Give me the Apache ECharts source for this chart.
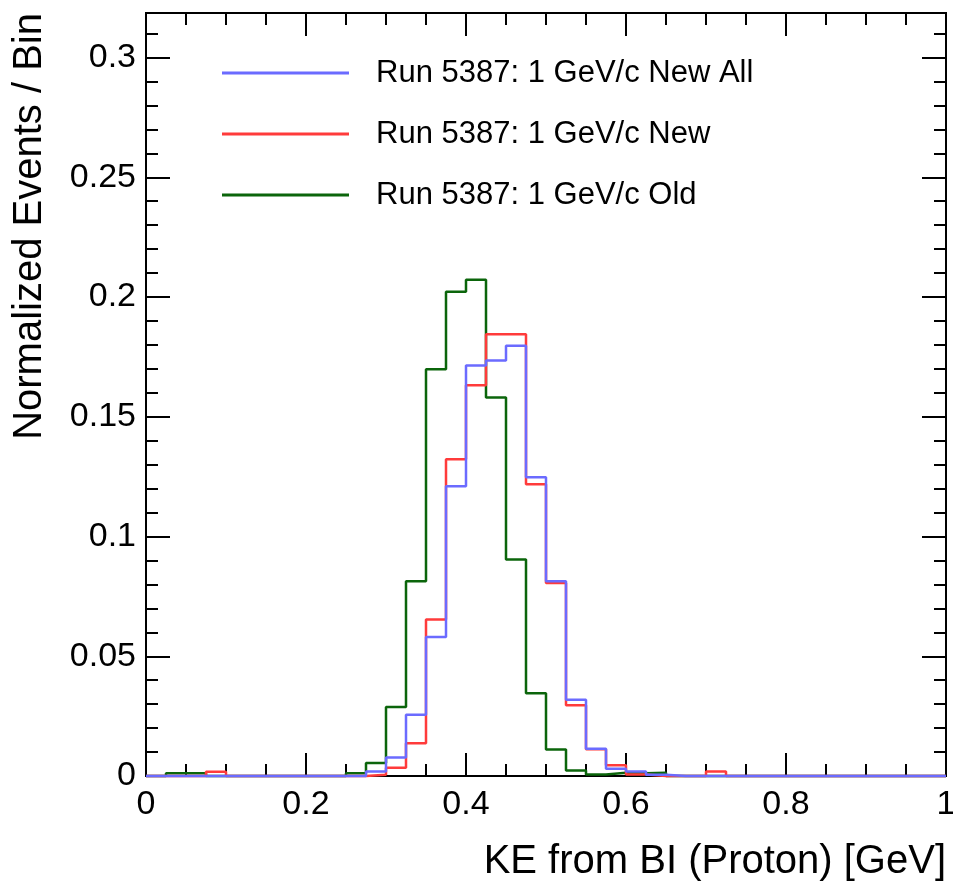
<!DOCTYPE html>
<html>
<head>
<meta charset="utf-8">
<script src="https://cdn.jsdelivr.net/npm/echarts@6/dist/echarts.min.js"></script>
<style>
html,body{margin:0;padding:0;background:#fff;overflow:hidden;}
#chart{width:953px;height:893px;}
</style>
</head>
<body>
<div id="chart"></div>
<script>
// Histogram binning: 40 bins of width 0.025 from 0 to 1
const binStart = 0;
const binWidth = 0.025;

const seriesNames = [
  'Run 5387: 1 GeV/c New All',
  'Run 5387: 1 GeV/c New',
  'Run 5387: 1 GeV/c Old'
];

// Bin contents (normalized events / bin), bins 0..39
const newAll = [
  0, 0, 0, 0, 0, 0, 0, 0, 0, 0,
  0, 0.0019, 0.0077, 0.0256, 0.058, 0.121, 0.1714, 0.1735, 0.1797, 0.1247,
  0.0813, 0.0318, 0.0114, 0.003, 0.0019, 0.0005, 0, 0, 0, 0,
  0, 0, 0, 0, 0, 0, 0, 0, 0, 0
];
const newSel = [
  0, 0, 0, 0.0018, 0, 0, 0, 0, 0, 0,
  0, 0.0005, 0.0034, 0.0137, 0.0653, 0.1323, 0.1632, 0.1845, 0.1845, 0.1218,
  0.0806, 0.0295, 0.0112, 0.0045, 0.0006, 0, 0, 0, 0.0019, 0,
  0, 0, 0, 0, 0, 0, 0, 0, 0, 0
];
const oldSel = [
  0, 0.0012, 0.0012, 0, 0, 0, 0, 0, 0, 0,
  0.0012, 0.0054, 0.0288, 0.0813, 0.1698, 0.2022, 0.2072, 0.158, 0.0904, 0.0346,
  0.0111, 0.0023, 0.0006, 0.0014, 0.0012, 0.0014, 0, 0, 0, 0,
  0, 0, 0, 0, 0, 0, 0, 0, 0, 0
];

const xTickLabels = ['0', '0.2', '0.4', '0.6', '0.8', '1'];
const yTickLabels = ['0', '0.05', '0.1', '0.15', '0.2', '0.25', '0.3'];

const colors = ['#6b6bff', '#ff3b3b', '#0b650b'];

function toSteps(vals) {
  const pts = vals.map((v, i) => [+(binStart + i * binWidth).toFixed(4), v]);
  pts.push([+(binStart + vals.length * binWidth).toFixed(4), vals[vals.length - 1]]);
  return pts;
}

const FONT = '"Liberation Sans", Arial, Helvetica, sans-serif';

function fmtX(v) {
  const i = Math.round(v / 0.2);
  if (Math.abs(v / 0.2 - i) > 1e-6) return '';
  return xTickLabels[i] || '';
}
function fmtY(v) {
  const i = Math.round(v / 0.05);
  if (Math.abs(v / 0.05 - i) > 1e-6) return '';
  return yTickLabels[i] || '';
}

const chart = echarts.init(document.getElementById('chart'), null, {renderer: 'canvas', width: 953, height: 893});

const commonX = {
  type: 'value', min: 0, max: 1, interval: 0.2,
  splitLine: {show: false},
  axisLine: {show: true, onZero: false, lineStyle: {color: '#000', width: 2}},
  axisTick: {show: true, inside: true, length: 23, lineStyle: {color: '#000', width: 2}},
  minorTick: {show: true, splitNumber: 4, length: 12, lineStyle: {color: '#000', width: 2}},
  minorSplitLine: {show: false}
};
const commonY = {
  type: 'value', min: 0, max: 0.3186, interval: 0.05,
  splitLine: {show: false},
  axisLine: {show: true, onZero: false, lineStyle: {color: '#000', width: 2}},
  axisTick: {show: true, inside: true, length: 24, lineStyle: {color: '#000', width: 2}},
  minorTick: {show: true, splitNumber: 5, length: 12, lineStyle: {color: '#000', width: 2}},
  minorSplitLine: {show: false}
};

const dataSets = [newAll, newSel, oldSel];
const zOrder = [4, 3, 2];

chart.setOption({
  animation: false,
  backgroundColor: '#fff',
  grid: {left: 146, top: 13, right: 7, bottom: 117, show: true, borderColor: '#000', borderWidth: 2,
         containLabel: false, outerBoundsMode: 'none'},
  legend: {
    data: seriesNames,
    orient: 'vertical',
    left: 222, top: 56,
    padding: 0,
    itemWidth: 127, itemHeight: 3,
    itemGap: 27,
    icon: 'rect',
    textStyle: {fontFamily: FONT, fontSize: 31, color: '#000', lineHeight: 34, padding: [0, 0, 0, 22]}
  },
  xAxis: [
    Object.assign({}, commonX, {position: 'bottom',
      axisLabel: {show: true, margin: 12, fontFamily: FONT, fontSize: 34, color: '#000', formatter: fmtX}}),
    Object.assign({}, commonX, {position: 'top', axisLabel: {show: false}})
  ],
  yAxis: [
    Object.assign({}, commonY, {position: 'left',
      axisLabel: {show: true, margin: 10, fontFamily: FONT, fontSize: 34, color: '#000', formatter: fmtY}}),
    Object.assign({}, commonY, {position: 'right', axisLabel: {show: false}})
  ],
  graphic: [
    {type: 'text', x: 946, y: 862, style: {text: 'KE from BI (Proton) [GeV]', font: '40px ' + FONT, fill: '#000', align: 'right', verticalAlign: 'middle'}},
    {type: 'text', x: 30, y: 13, rotation: Math.PI / 2, style: {text: 'Normalized Events / Bin', font: '40px ' + FONT, fill: '#000', align: 'right', verticalAlign: 'middle'}}
  ],
  series: seriesNames.map((name, k) => ({
    name: name,
    type: 'line',
    step: 'end',
    xAxisIndex: 0, yAxisIndex: 0,
    showSymbol: false,
    symbol: 'none',
    clip: false,
    z: zOrder[k],
    color: colors[k],
    lineStyle: {color: colors[k], width: 2.5},
    data: toSteps(dataSets[k])
  }))
});
</script>
</body>
</html>
